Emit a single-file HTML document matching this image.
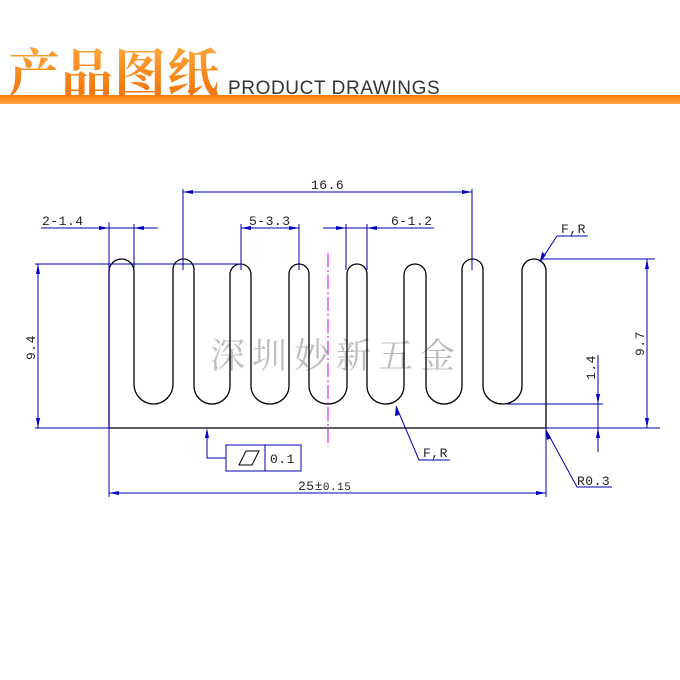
<!DOCTYPE html>
<html><head><meta charset="utf-8"><style>
html,body{margin:0;padding:0;background:#fff;width:680px;height:680px;overflow:hidden}
svg{display:block}
</style></head><body>
<svg width="680" height="680" viewBox="0 0 680 680" xmlns="http://www.w3.org/2000/svg">
<defs>
<linearGradient id="og" x1="0" y1="0" x2="0" y2="1">
<stop offset="0" stop-color="#ffb347"/><stop offset="1" stop-color="#f06a00"/></linearGradient>
<linearGradient id="bar" x1="0" y1="0" x2="0" y2="1">
<stop offset="0" stop-color="#f57a00"/><stop offset="1" stop-color="#ffa640"/></linearGradient>
</defs>
<text x="8" y="92" font-family="'Noto Serif CJK SC',serif" font-weight="bold" font-size="52" fill="url(#og)" letter-spacing="1">产品图纸</text>
<text x="228" y="94" font-family="'Liberation Sans',sans-serif" font-size="19" fill="#333" letter-spacing="0.6">PRODUCT DRAWINGS</text>
<rect x="0" y="95" width="680" height="9" fill="url(#bar)"/>

<!-- watermark -->
<text x="210" y="368" font-family="'Noto Serif CJK SC',serif" font-size="35" fill="#bdbdbd" letter-spacing="7">深圳妙新五金</text>

<!-- profile -->
<path fill="none" stroke="#000" stroke-width="1.3" d="
M109,428 L109,271.5 A12.5,12.5 0 0 1 134,271.5 L134,384 A19.5,20 0 0 0 173,384
L173,269.5 A10.5,10.5 0 0 1 194,269.5 L194,386 A18,18 0 0 0 230,386
L230,274.5 A10.5,10.5 0 0 1 251,274.5 L251,386 A19,18 0 0 0 289,386
L289,274 A10,10 0 0 1 309,274 L309,386 A19,18 0 0 0 347,386
L347,274 A10,10 0 0 1 367,274 L367,386 A18.5,18 0 0 0 404,386
L404,275 A11,11 0 0 1 426,275 L426,386 A18,18 0 0 0 462,386
L462,269.5 A10.5,10.5 0 0 1 483,269.5 L483,386 A19.5,18 0 0 0 522,386
L522,271 A12,12 0 0 1 546,271 L546,428 Z"/>

<g stroke="#0000b0" stroke-width="1" fill="none">
<line x1="183" y1="192" x2="472" y2="192"/>
<line x1="183" y1="189" x2="183" y2="270"/>
<line x1="472" y1="189" x2="472" y2="270"/>
<line x1="41" y1="228" x2="158" y2="228"/>
<line x1="109" y1="222" x2="109" y2="497"/>
<line x1="134" y1="224" x2="134" y2="268"/>
<line x1="241" y1="228" x2="299" y2="228"/>
<line x1="241" y1="224" x2="241" y2="270"/>
<line x1="299" y1="224" x2="299" y2="270"/>
<line x1="323" y1="228" x2="434" y2="228"/>
<line x1="346" y1="224" x2="346" y2="270"/>
<line x1="367" y1="224" x2="367" y2="270"/>
<line x1="35" y1="264" x2="241" y2="264"/>
<line x1="35" y1="428" x2="109" y2="428"/>
<line x1="38" y1="264" x2="38" y2="428"/>
<line x1="540" y1="259" x2="655" y2="259"/>
<line x1="546" y1="428" x2="660" y2="428"/>
<line x1="647" y1="259" x2="647" y2="428"/>
<line x1="507" y1="404" x2="603" y2="404"/>
<line x1="598" y1="355" x2="598" y2="452"/>
<line x1="109" y1="493" x2="546" y2="493"/>
<line x1="546" y1="428" x2="546" y2="497"/>
<polyline points="207,430 207,458 226,458"/>
<rect x="226" y="445" width="75" height="26"/>
<line x1="265" y1="445" x2="265" y2="471"/>
<polyline points="540,262 557,236 588,236"/>
<polyline points="396,406 419,460 450,460"/>
<polyline points="546,430 577,487 612,487"/>
</g>
<g fill="#0000c0">
<polygon points="183,192 193,190 193,194"/><polygon points="472,192 462,190 462,194"/>
<polygon points="109,228 99,226 99,230"/><polygon points="134,228 144,226 144,230"/>
<polygon points="241,228 251,226 251,230"/><polygon points="299,228 289,226 289,230"/>
<polygon points="346,228 336,226 336,230"/><polygon points="367,228 377,226 377,230"/>
<polygon points="38,264 36,274 40,274"/><polygon points="38,428 36,418 40,418"/>
<polygon points="647,259 645,269 649,269"/><polygon points="647,428 645,418 649,418"/>
<polygon points="598,404 596,394 600,394"/><polygon points="598,428 596,438 600,438"/>
<polygon points="109,493 119,491 119,495"/><polygon points="546,493 536,491 536,495"/>
<polygon points="207,428 205,438 209,438"/>
<polygon points="540,262 542,252 546,255"/>
<polygon points="396,406 395,416 399,415"/>
<polygon points="546,430 547,440 551,438"/>
</g>
<line x1="328" y1="253" x2="328" y2="447" stroke="#d000d0" stroke-width="1" stroke-dasharray="14,3,2,3"/>
<polygon points="239,465 246,451 259,451 252,465" fill="none" stroke="#000" stroke-width="1"/>

<g font-family="'Liberation Mono',monospace" font-size="13" fill="#222" letter-spacing="0.5">
<text x="311" y="189">16.6</text>
<text x="42" y="225">2-1.4</text>
<text x="249" y="225">5-3.3</text>
<text x="391" y="225">6-1.2</text>
<text x="561" y="233">F,R</text>
<text x="423" y="457">F,R</text>
<text x="577" y="485">R0.3</text>
<text x="270" y="463">0.1</text>
<text x="298" y="490">25±<tspan font-size="11">0.15</tspan></text>
<text transform="translate(35,360) rotate(-90)">9.4</text>
<text transform="translate(644,356) rotate(-90)">9.7</text>
<text transform="translate(595,380) rotate(-90)">1.4</text>
</g>
</svg>
</body></html>
